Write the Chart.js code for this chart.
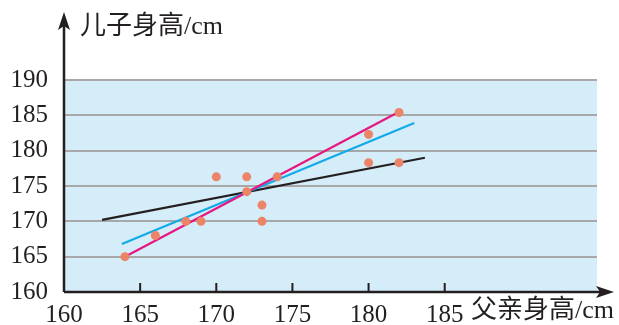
<!DOCTYPE html>
<html>
<head>
<meta charset="utf-8">
<script src="https://cdn.jsdelivr.net/npm/chart.js@4/dist/chart.umd.min.js"></script>
<style>
  html, body { margin: 0; padding: 0; background: #fff; }
  #wrap { width: 619px; height: 325px; }
</style>
</head>
<body>
<div id="wrap"><canvas id="heightChart" width="619" height="325"></canvas></div>
<script>
// father / son heights (cm)
var fatherH = [164, 166, 168, 169, 170, 172, 172, 173, 173, 174, 180, 180, 182, 182];
var sonH    = [165, 168, 170, 170, 176.3, 176.3, 174.2, 172.3, 170, 176.3, 182.3, 178.3, 185.4, 178.3];

// fitted lines, end points
var blackX = [162.5, 183.7], blackY = [170.2, 179.0];
var blueX  = [163.8, 183.0], blueY  = [166.8, 183.9];
var pinkX  = [164.0, 182.1], pinkY  = [165.0, 185.6];

// tick labels
var xTicks = [160, 165, 170, 175, 180, 185];
var yTicks = [160, 165, 170, 175, 180, 185, 190];

var xTitle = "父亲身高/cm";
var yTitle = "儿子身高/cm";

function pts(xs, ys) {
    return xs.map(function (x, i) { return {x: x, y: ys[i]}; });
}

var serif = "'Liberation Serif', 'Noto Sans CJK SC', serif";

var decor = {
    id: 'decor',
    beforeDraw: function (chart) {
        var a = chart.chartArea, c = chart.ctx;
        c.save();
        c.fillStyle = '#d5ecf9';
        c.fillRect(a.left, a.top, a.right - a.left, a.bottom - a.top);
        c.restore();
    },
    afterDraw: function (chart) {
        var a = chart.chartArea, c = chart.ctx;
        var xs = chart.scales.x;
        c.save();
        c.strokeStyle = '#231f20';
        c.fillStyle = '#231f20';
        c.lineWidth = 2.5;
        // y axis
        c.beginPath();
        c.moveTo(a.left, a.bottom);
        c.lineTo(a.left, 20);
        c.stroke();
        c.beginPath();
        c.moveTo(a.left, 12);
        c.lineTo(a.left - 6, 30);
        c.lineTo(a.left, 26);
        c.lineTo(a.left + 6, 30);
        c.closePath();
        c.fill();
        // x axis
        c.beginPath();
        c.moveTo(a.left, a.bottom);
        c.lineTo(605, a.bottom);
        c.stroke();
        c.beginPath();
        c.moveTo(614, a.bottom);
        c.lineTo(596, a.bottom - 6);
        c.lineTo(600, a.bottom);
        c.lineTo(596, a.bottom + 6);
        c.closePath();
        c.fill();
        // inner tick marks
        c.lineWidth = 2;
        xTicks.forEach(function (v) {
            if (v === xs.min) return;
            var px = xs.getPixelForValue(v);
            c.beginPath();
            c.moveTo(px, a.bottom);
            c.lineTo(px, a.bottom - 9);
            c.stroke();
        });
        // axis titles
        c.font = '26px ' + serif;
        c.textBaseline = 'middle';
        c.textAlign = 'left';
        c.fillText(yTitle, 80, 27);
        c.fillText(xTitle, 471, 311);
        c.restore();
    }
};

var ctx = document.getElementById('heightChart');
var chart = new Chart(ctx, {
    type: 'scatter',
    data: {
        datasets: [
            {
                data: pts(fatherH, sonH),
                backgroundColor: '#ec8467',
                borderWidth: 0,
                pointRadius: 4.5
            },
            {
                data: pts(pinkX, pinkY),
                showLine: true,
                borderColor: '#e6177f',
                borderWidth: 2.2,
                pointRadius: 0
            },
            {
                data: pts(blueX, blueY),
                showLine: true,
                borderColor: '#12aae8',
                borderWidth: 2.2,
                pointRadius: 0
            },
            {
                data: pts(blackX, blackY),
                showLine: true,
                borderColor: '#231f20',
                borderWidth: 2.2,
                pointRadius: 0
            }
        ]
    },
    options: {
        responsive: false,
        animation: false,
        layout: {padding: {left: 0, right: 22, top: 80, bottom: 0}},
        plugins: {
            legend: {display: false},
            tooltip: {enabled: false}
        },
        scales: {
            x: {
                type: 'linear',
                min: 160,
                max: 195,
                afterBuildTicks: function (s) {
                    s.ticks = xTicks.map(function (v) { return {value: v}; });
                },
                afterFit: function (s) { s.height = 33; },
                grid: {display: false, drawTicks: false},
                border: {display: false},
                ticks: {
                    color: '#231f20',
                    padding: 8,
                    font: {family: serif, size: 25},
                    maxRotation: 0,
                    autoSkip: false
                }
            },
            y: {
                type: 'linear',
                min: 160,
                max: 190,
                afterBuildTicks: function (s) {
                    s.ticks = yTicks.map(function (v) { return {value: v}; });
                },
                afterFit: function (s) { s.width = 64; },
                grid: {
                    drawTicks: false,
                    lineWidth: 2,
                    color: function (c) { return c.tick && c.tick.value === 160 ? 'rgba(0,0,0,0)' : '#a8a8a8'; }
                },
                border: {display: false},
                ticks: {
                    color: '#231f20',
                    padding: 16,
                    font: {family: serif, size: 25}
                }
            }
        }
    },
    plugins: [decor]
});
</script>
</body>
</html>
